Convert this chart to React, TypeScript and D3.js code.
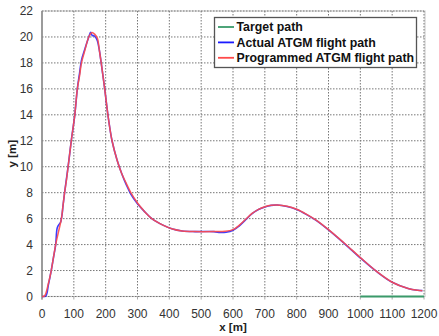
import React from "react";
import * as d3 from "d3";

// Programmed trajectory (x in m, y in m)
const progX = [0, 8, 20, 29, 36, 43, 52, 61, 66, 71, 77, 82, 87, 92, 103, 111, 118, 124, 135, 147, 157, 166, 174, 180, 186, 197, 207, 220, 236, 250, 265, 279, 300, 320, 345, 380, 410, 440, 480, 540, 575, 600, 620, 640, 660, 680, 700, 720, 739, 770, 800, 830, 860, 900, 950, 1000, 1050, 1100, 1150, 1180, 1195];
const progY = [0, 0.05, 1.0, 2.0, 3.0, 4.0, 5.0, 6.0, 7.0, 8.0, 9.0, 10.0, 11.0, 12.0, 14.0, 16.0, 17.0, 18.0, 19.0, 20.0, 20.35, 20.2, 19.9, 19.0, 18.0, 16.0, 14.0, 12.0, 10.5, 9.5, 8.7, 8.0, 7.2, 6.6, 6.0, 5.5, 5.2, 5.05, 5.0, 5.0, 5.02, 5.15, 5.5, 5.95, 6.4, 6.72, 6.92, 7.03, 7.05, 6.95, 6.72, 6.35, 5.9, 5.15, 4.1, 3.0, 1.95, 1.1, 0.62, 0.48, 0.45];

// Actual trajectory
const actX = [0, 12, 20, 29, 36, 43, 48, 55, 58, 63, 66, 71, 77, 82, 87, 92, 103, 111, 118, 124, 135, 147, 153, 158, 163, 168, 174, 180, 186, 197, 207, 220, 236, 250, 265, 279, 300, 320, 345, 380, 410, 440, 480, 540, 560, 578, 600, 620, 640, 660, 680, 700, 720, 739, 770, 800, 830, 860, 900, 950, 1000, 1050, 1100, 1150, 1180, 1195];
const actY = [0, 0.05, 0.9, 2.0, 3.0, 4.0, 5.3, 5.6, 5.7, 6.3, 7.0, 8.0, 9.1, 10.0, 11.0, 12.0, 14.0, 16.0, 17.2, 18.2, 19.1, 20.0, 20.35, 20.1, 20.1, 20.0, 19.7, 19.0, 18.0, 16.0, 14.0, 12.0, 10.5, 9.5, 8.6, 7.9, 7.15, 6.6, 6.0, 5.5, 5.2, 5.05, 5.0, 5.0, 4.93, 4.95, 5.1, 5.45, 5.92, 6.38, 6.7, 6.9, 7.02, 7.05, 6.93, 6.7, 6.33, 5.88, 5.13, 4.08, 2.98, 1.95, 1.1, 0.62, 0.48, 0.45];

// Target path on the ground
const targetX = [1000, 1200];
const targetY = [0, 0];

const xTicks = [0, 100, 200, 300, 400, 500, 600, 700, 800, 900, 1000, 1100, 1200];
const yTicks = [0, 2, 4, 6, 8, 10, 12, 14, 16, 18, 20, 22];

const legendLabels = ["Target path", "Actual ATGM flight path", "Programmed ATGM flight path"];
const legendColors = ["#3a9a6a", "#1a1aff", "#ff4a4a"];

export default function App() {
  const W = 439;
  const H = 336;
  const left = 42;
  const right = 424;
  const top = 11;
  const bottom = 296.5;

  const x = d3.scaleLinear().domain([0, 1200]).range([left, right]);
  const y = d3.scaleLinear().domain([0, 22]).range([bottom, top]);

  const line = d3
    .line<[number, number]>()
    .x((d) => x(d[0]))
    .y((d) => y(d[1]))
    .curve(d3.curveCatmullRom.alpha(0.5));

  const prog = progX.map((v, i) => [v, progY[i]] as [number, number]);
  const act = actX.map((v, i) => [v, actY[i]] as [number, number]);
  const tgt = targetX.map((v, i) => [v, targetY[i]] as [number, number]);

  const font = "'Liberation Sans', Arial, sans-serif";

  return (
    <svg
      width={W}
      height={H}
      style={{ position: "absolute", left: 0, top: 0 }}
      fontFamily={font}
    >
      <rect x={0} y={0} width={W} height={H} fill="#fff" />
      {/* frame */}
      <rect x={left} y={top} width={right + 1 - left} height={bottom - top} fill="none" stroke="#cfcfcf" strokeWidth={1.2} />
      {/* grid */}
      {xTicks.slice(1).map((t) => (
        <line key={"gx" + t} x1={x(t)} x2={x(t)} y1={top} y2={bottom} stroke="#777" strokeWidth={1} strokeDasharray="1.5,1.5" />
      ))}
      {yTicks.map((t) => (
        <line key={"gy" + t} x1={left} x2={right} y1={y(t)} y2={y(t)} stroke="#777" strokeWidth={1} strokeDasharray="1.5,1.5" />
      ))}
      {/* left axis */}
      <line x1={left} x2={left} y1={top} y2={bottom + 3} stroke="#8a8a8a" strokeWidth={1.6} />
      {xTicks.map((t) => (
        <line key={"tx" + t} x1={x(t)} x2={x(t)} y1={bottom} y2={bottom + 3} stroke="#aaa" strokeWidth={1} />
      ))}
      {/* tick labels */}
      {yTicks.map((t) => (
        <text key={"ly" + t} x={33} y={y(t)} dy="0.36em" textAnchor="end" fontSize={12} fill="#333">
          {t}
        </text>
      ))}
      {xTicks.map((t) => (
        <text key={"lx" + t} x={x(t)} y={314} dy="0.36em" textAnchor="middle" fontSize={12} fill="#333">
          {t}
        </text>
      ))}
      <text x={x(600)} y={327} dy="0.36em" textAnchor="middle" fontSize={11.5} fontWeight="bold" fill="#222">
        x [m]
      </text>
      <text transform={`translate(12,${(top + bottom) / 2}) rotate(-90)`} textAnchor="middle" dy="0.36em" fontSize={11.5} fontWeight="bold" fill="#222">
        y [m]
      </text>
      {/* series */}
      <path d={line(tgt) || ""} fill="none" stroke={legendColors[0]} strokeWidth={1.8} />
      <path d={line(act) || ""} fill="none" stroke={legendColors[1]} strokeWidth={1.6} strokeOpacity={0.85} />
      <path d={line(prog) || ""} fill="none" stroke={legendColors[2]} strokeWidth={1.5} strokeOpacity={0.9} />
      {/* legend */}
      <g>
        <rect x={214.5} y={17.5} width={202} height={50} fill="#fff" stroke="#555" strokeWidth={1.3} />
        {legendLabels.map((lab, i) => (
          <g key={lab}>
            <line x1={218} x2={234} y1={27 + i * 15.4} y2={27 + i * 15.4} stroke={legendColors[i]} strokeWidth={1.8} />
            <text x={236.5} y={27 + i * 15.4} dy="0.36em" fontSize={12.35} fontWeight="bold" fill="#111">
              {lab}
            </text>
          </g>
        ))}
      </g>
    </svg>
  );
}
